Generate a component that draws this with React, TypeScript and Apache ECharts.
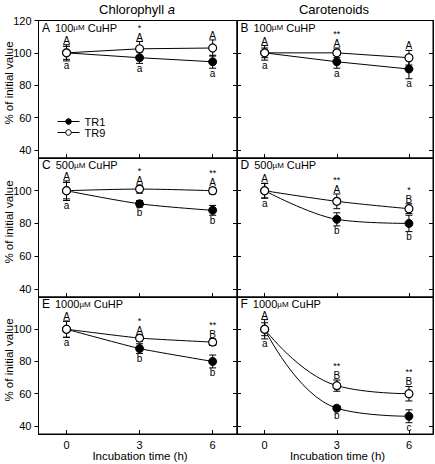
import React, { useEffect, useRef } from "react";
import * as echarts from "echarts";

const FONT = '"Liberation Sans", Arial, Helvetica, sans-serif';

const hours = [0, 3, 6];
const xTickLabels = [0, 3, 6];
const yTickValuesTop = [40, 60, 80, 100, 120];
const yTickValuesLower = [40, 60, 80, 100];
const columnTitles = ["Chlorophyll ", "Carotenoids"];
const panelLetters = ["A", "B", "C", "D", "E", "F"];
const panelDoses = ["100", "100", "500", "500", "1000", "1000"];
const seriesNames = ["TR1", "TR9"];

// Panel A – Chlorophyll a, 100 µM
const tr1A = [100, 97, 94.5];
const tr1ErrA = [4, 3.5, 4];
const tr9A = [100, 102.5, 103];
const tr9ErrA = [5, 4.5, 5];
const upperA = ["A", "A", "A"];
const lowerA = ["a", "a", "a"];
const starsA = ["", "*", ""];

// Panel B – Carotenoids, 100 µM
const tr1B = [100, 94.5, 90];
const tr1ErrB = [4.5, 4, 6];
const tr9B = [100, 100, 97];
const tr9ErrB = [3, 3, 4.5];
const upperB = ["A", "A", "A"];
const lowerB = ["a", "a", "a"];
const starsB = ["", "**", ""];

// Panel C – Chlorophyll a, 500 µM
const tr1C = [100, 92, 88];
const tr1ErrC = [6, 2, 3];
const tr9C = [100, 101, 100];
const tr9ErrC = [5, 2.5, 2];
const upperC = ["A", "A", "A"];
const lowerC = ["a", "b", "b"];
const starsC = ["", "*", "**"];

// Panel D – Carotenoids, 500 µM
const tr1D = [100, 82.5, 80];
const tr1ErrD = [4.5, 4, 5];
const tr9D = [100, 93.5, 89];
const tr9ErrD = [4.5, 4.5, 3];
const upperD = ["A", "A", "B"];
const lowerD = ["a", "b", "b"];
const starsD = ["", "**", "*"];

// Panel E – Chlorophyll a, 1000 µM
const tr1E = [100, 88, 80];
const tr1ErrE = [5, 3, 4];
const tr9E = [100, 94.5, 92];
const tr9ErrE = [5, 2, 2];
const upperE = ["A", "A", "B"];
const lowerE = ["a", "b", "b"];
const starsE = ["", "*", "**"];

// Panel F – Carotenoids, 1000 µM
const tr1F = [100, 51, 46];
const tr1ErrF = [6, 1.5, 4];
const tr9F = [100, 65, 60];
const tr9ErrF = [4, 3.5, 4.5];
const upperF = ["A", "B", "B"];
const lowerF = ["a", "b", "c"];
const starsF = ["", "**", "**"];

const panels = [
  { tr1: tr1A, e1: tr1ErrA, tr9: tr9A, e9: tr9ErrA, upper: upperA, lower: lowerA, stars: starsA, smooth: false },
  { tr1: tr1B, e1: tr1ErrB, tr9: tr9B, e9: tr9ErrB, upper: upperB, lower: lowerB, stars: starsB, smooth: false },
  { tr1: tr1C, e1: tr1ErrC, tr9: tr9C, e9: tr9ErrC, upper: upperC, lower: lowerC, stars: starsC, smooth: 0.3 },
  { tr1: tr1D, e1: tr1ErrD, tr9: tr9D, e9: tr9ErrD, upper: upperD, lower: lowerD, stars: starsD, smooth: 0.35 },
  { tr1: tr1E, e1: tr1ErrE, tr9: tr9E, e9: tr9ErrE, upper: upperE, lower: lowerE, stars: starsE, smooth: 0.15 },
  { tr1: tr1F, e1: tr1ErrF, tr9: tr9F, e9: tr9ErrF, upper: upperF, lower: lowerF, stars: starsF, smooth: 0.45 },
];

const colLeft = [38.5, 237];
const colWidth = [198.5, 196];
const rowTop = [20.5, 158, 297];
const rowHeight = [137.5, 139, 137];

function errorSeries(gi: number, values: number[], errs: number[]) {
  return {
    type: "custom",
    xAxisIndex: gi,
    yAxisIndex: 2 * gi,
    z: 2,
    silent: true,
    data: hours.map((h, k) => [h, values[k], errs[k]]),
    renderItem: (params: any, api: any) => {
      const x = api.value(0);
      const y = api.value(1);
      const e = api.value(2);
      const top = api.coord([x, y + e]);
      const bot = api.coord([x, y - e]);
      const hw = 3.5;
      const st = { stroke: "#000", lineWidth: 1 };
      return {
        type: "group",
        children: [
          { type: "line", shape: { x1: top[0], y1: top[1], x2: bot[0], y2: bot[1] }, style: st },
          { type: "line", shape: { x1: top[0] - hw, y1: top[1], x2: top[0] + hw, y2: top[1] }, style: st },
          { type: "line", shape: { x1: bot[0] - hw, y1: bot[1], x2: bot[0] + hw, y2: bot[1] }, style: st },
        ],
      };
    },
  };
}

function labelSeries(gi: number, p: any) {
  return {
    type: "custom",
    xAxisIndex: gi,
    yAxisIndex: 2 * gi,
    z: 5,
    silent: true,
    data: hours.map((h, k) => [
      h,
      Math.max(p.tr1[k] + p.e1[k], p.tr9[k] + p.e9[k]),
      Math.min(p.tr1[k] - p.e1[k], p.tr9[k] - p.e9[k]),
    ]),
    renderItem: (params: any, api: any) => {
      const k = params.dataIndex;
      const top = api.coord([api.value(0), api.value(1)]);
      const bot = api.coord([api.value(0), api.value(2)]);
      const base = { fill: "#000", fontFamily: FONT, align: "center", verticalAlign: "middle" };
      const children: any[] = [
        { type: "text", x: top[0], y: top[1] - 4.5, style: { ...base, text: p.upper[k], fontSize: 10, lineHeight: 9 } },
        { type: "text", x: bot[0], y: bot[1] + 5, style: { ...base, text: p.lower[k], fontSize: 10, lineHeight: 9 } },
      ];
      if (p.stars[k]) {
        children.push({
          type: "text",
          x: top[0],
          y: top[1] - 14,
          style: { ...base, text: p.stars[k], fontSize: 9, lineHeight: 8 },
        });
      }
      return { type: "group", children };
    },
  };
}

export default function App() {
  const ref = useRef<HTMLDivElement>(null);
  useEffect(() => {
    if (!ref.current) return;
    const chart = echarts.init(ref.current, undefined, { renderer: "svg" });

    const grids: any[] = [];
    const xAxes: any[] = [];
    const yAxes: any[] = [];
    const series: any[] = [];

    panels.forEach((p, i) => {
      const col = i % 2;
      const row = Math.floor(i / 2);
      grids.push({
        left: colLeft[col],
        top: rowTop[row],
        width: colWidth[col],
        height: rowHeight[row],
        show: true,
        borderColor: "#000",
        borderWidth: 1,
        backgroundColor: "transparent",
      });
      xAxes.push({
        type: "value",
        gridIndex: i,
        min: -1.15,
        max: 7,
        axisLine: { show: true, onZero: false, lineStyle: { color: "#000", width: 1 } },
        axisTick: { show: true, inside: true, length: 4, customValues: xTickLabels, lineStyle: { color: "#000" } },
        axisLabel: {
          show: row === 2,
          customValues: xTickLabels,
          margin: 5,
          color: "#000",
          fontSize: 11,
          fontFamily: FONT,
        },
        splitLine: { show: false },
      });
      const ticks = row === 0 ? yTickValuesTop : yTickValuesLower;
      yAxes.push({
        type: "value",
        gridIndex: i,
        min: 35,
        max: 120,
        position: "left",
        axisLine: { show: true, onZero: false, lineStyle: { color: "#000", width: 1 } },
        axisTick: { show: true, inside: col === 1, length: 4, customValues: ticks, lineStyle: { color: "#000" } },
        axisLabel: {
          show: col === 0,
          customValues: ticks,
          margin: 7,
          color: "#000",
          fontSize: 11,
          fontFamily: FONT,
        },
        splitLine: { show: false },
      });
      yAxes.push({
        type: "value",
        gridIndex: i,
        min: 35,
        max: 120,
        position: "right",
        axisLine: { show: true, onZero: false, lineStyle: { color: "#000", width: 1 } },
        axisTick: { show: true, inside: true, length: 4, customValues: ticks, lineStyle: { color: "#000" } },
        axisLabel: { show: false },
        splitLine: { show: false },
      });

      series.push(errorSeries(i, p.tr1, p.e1));
      series.push(errorSeries(i, p.tr9, p.e9));
      series.push({
        type: "line",
        name: seriesNames[0],
        xAxisIndex: i,
        yAxisIndex: 2 * i,
        data: hours.map((h, k) => [h, p.tr1[k]]),
        smooth: p.smooth,
        symbol: "circle",
        symbolSize: 8,
        z: 3,
        itemStyle: { color: "#000", borderColor: "#000", borderWidth: 1 },
        lineStyle: { color: "#000", width: 1 },
      });
      series.push({
        type: "line",
        name: seriesNames[1],
        xAxisIndex: i,
        yAxisIndex: 2 * i,
        data: hours.map((h, k) => [h, p.tr9[k]]),
        smooth: p.smooth,
        symbol: "circle",
        symbolSize: 8,
        z: 4,
        itemStyle: { color: "#fff", borderColor: "#000", borderWidth: 1.2 },
        lineStyle: { color: "#000", width: 1 },
      });
      series.push(labelSeries(i, p));
    });

    const graphics: any[] = [];
    graphics.push({
      type: "text",
      x: 137,
      y: 9,
      style: {
        text: "{n|" + columnTitles[0] + "}{i|a}",
        rich: {
          n: { fontSize: 13, fontFamily: FONT, fill: "#000" },
          i: { fontSize: 13, fontFamily: FONT, fontStyle: "italic", fill: "#000" },
        },
        align: "center",
        verticalAlign: "middle",
      },
    });
    graphics.push({
      type: "text",
      x: 334,
      y: 9,
      style: { text: columnTitles[1], fontSize: 13, fontFamily: FONT, fill: "#000", align: "center", verticalAlign: "middle" },
    });
    [83, 222, 360].forEach((cy) => {
      graphics.push({
        type: "text",
        x: 8.5,
        y: cy,
        rotation: Math.PI / 2,
        style: { text: "% of initial value", fontSize: 11.5, fontFamily: FONT, fill: "#000", align: "center", verticalAlign: "middle" },
      });
    });
    [140, 337.5].forEach((cx) => {
      graphics.push({
        type: "text",
        x: cx,
        y: 456,
        style: { text: "Incubation time (h)", fontSize: 11.5, fontFamily: FONT, fill: "#000", align: "center", verticalAlign: "middle" },
      });
    });
    panelLetters.forEach((L, i) => {
      const col = i % 2;
      const row = Math.floor(i / 2);
      graphics.push({
        type: "text",
        x: colLeft[col] + 3.5,
        y: rowTop[row] + 7,
        style: {
          text: "{L|" + L + "}{n|" + panelDoses[i] + "}{u|µM}{n| CuHP}",
          rich: {
            L: { fontSize: 12, lineHeight: 11, fontFamily: FONT, fill: "#000", padding: [0, 5, 0, 0] },
            n: { fontSize: 11, lineHeight: 11, fontFamily: FONT, fill: "#000" },
            u: { fontSize: 8, lineHeight: 11, fontFamily: FONT, fill: "#000" },
          },
          align: "left",
          verticalAlign: "middle",
        },
      });
    });

    chart.setOption({
      animation: false,
      backgroundColor: "#fff",
      textStyle: { fontFamily: FONT },
      legend: {
        data: seriesNames,
        orient: "vertical",
        left: 52,
        top: 111,
        itemWidth: 22,
        itemHeight: 7,
        itemGap: 0,
        lineStyle: { width: 1 },
        itemStyle: { borderWidth: 1 },
        textStyle: { fontSize: 11, color: "#000", fontFamily: FONT },
        selectedMode: false,
      },
      grid: grids,
      xAxis: xAxes,
      yAxis: yAxes,
      series,
      graphic: graphics,
    });

    return () => chart.dispose();
  }, []);

  return <div ref={ref} style={{ position: "absolute", left: 0, top: 0, width: 435, height: 464 }} />;
}
